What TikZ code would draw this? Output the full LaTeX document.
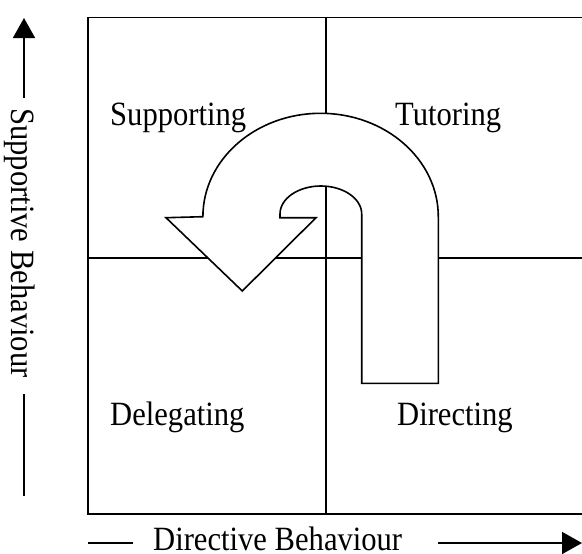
\documentclass[tikz,border=0pt]{standalone}
\usepackage{fontspec}
\setmainfont{Liberation Serif}[FakeStretch=0.9]
\usetikzlibrary{arrows.meta}
\begin{document}
\begin{tikzpicture}[x=1pt,y=-1pt,
  ln/.style={line width=1.6pt, black},
  lbl/.style={anchor=base west, inner sep=0pt, font=\fontsize{34}{40}\selectfont},
  axarrow/.style={ln, -{Triangle[length=20pt,width=22pt]}}]
\useasboundingbox (0,0) rectangle (582,554);
\fill[white] (0,0) rectangle (582,554);
% quadrant box (right side lies beyond the picture edge)
\coordinate (tl) at (88,17.3);
\coordinate (tr) at (582,17.3);
\coordinate (bl) at (88,514);
\coordinate (br) at (582,514);
\coordinate (mt) at (326,17.3);
\coordinate (mb) at (326,514);
\coordinate (ml) at (88,257.7);
\coordinate (mr) at (582,257.7);
\draw[ln] (tr) -- (tl) -- (bl) -- (br);
\draw[ln] (mt) -- (mb);
\draw[ln] (ml) -- (mr);
% U-turn arrow
\draw[ln, fill=white, line join=miter]
  (438.3,383.3) -- (438.3,216.7)
  arc[start angle=0, end angle=180, x radius=117.7pt, y radius=103.4pt]
  -- (166,217.7) -- (242.3,291) -- (316,217.7) -- (280,217.7) -- (280,214)
  arc[start angle=180, end angle=0, x radius=40.85pt, y radius=28pt]
  -- (361.7,383.3) -- cycle;
% quadrant labels
\node[lbl] (sup) at (110,125) {Supporting};
\node[lbl] (tut) at (395,125) {Tutoring};
\node[lbl] (del) at (110,425) {Delegating};
\node[lbl] (dir) at (397,425) {Directing};
% vertical axis
\node[lbl, rotate=-90] (yax) at (12,108) {Supportive Behaviour};
\coordinate (ya1) at (24,98);
\coordinate (ya2) at (24,18);
\coordinate (yb1) at (24,394);
\coordinate (yb2) at (24,496);
\draw[axarrow] (ya1) -- (ya2);
\draw[ln] (yb1) -- (yb2);
% horizontal axis
\node[lbl] (xax) at (153,550) {Directive Behaviour};
\coordinate (xa1) at (88,543);
\coordinate (xa2) at (133,543);
\coordinate (xb1) at (438,543);
\coordinate (xb2) at (582,543);
\draw[ln] (xa1) -- (xa2);
\draw[axarrow] (xb1) -- (xb2);
\end{tikzpicture}
\end{document}
